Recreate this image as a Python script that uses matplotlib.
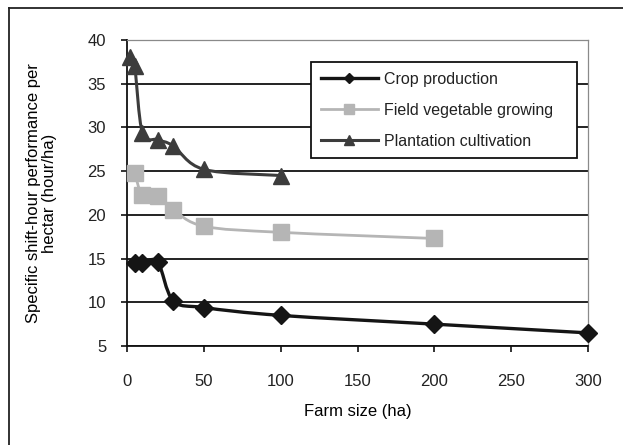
'''
Shift-hour performance per hectare against farm size, three farm types.
'''

import numpy as np
import matplotlib
matplotlib.use('Agg')
import matplotlib.pyplot as plt
from matplotlib.path import Path
from matplotlib.patches import PathPatch
from matplotlib.lines import Line2D

# data
crop_x = [5, 10, 20, 30, 50, 100, 200, 300]
crop_y = [14.5, 14.5, 14.6, 10.2, 9.4, 8.5, 7.5, 6.5]

veg_x = [5, 10, 20, 30, 50, 100, 200]
veg_y = [24.8, 22.3, 22.1, 20.6, 18.7, 18.0, 17.3]

plant_x = [2, 5, 10, 20, 30, 50, 100]
plant_y = [38.0, 37.0, 29.4, 28.6, 27.9, 25.2, 24.5]

series_names = ['Crop production', 'Field vegetable growing', 'Plantation cultivation']
x_ticks = [0, 50, 100, 150, 200, 250, 300]
y_ticks = [5, 10, 15, 20, 25, 30, 35, 40]


def smooth_path(xs, ys):
    '''Bezier path through the points, like the smoothed lines of a spreadsheet.'''
    pts = np.column_stack([xs, ys]).astype(float)
    n = len(pts)
    verts = [pts[0]]
    codes = [Path.MOVETO]
    for i in range(n - 1):
        p0 = pts[max(i - 1, 0)]
        p1 = pts[i]
        p2 = pts[i + 1]
        p3 = pts[min(i + 2, n - 1)]
        verts += [p1 + (p2 - p0) / 6, p2 - (p3 - p1) / 6, p2]
        codes += [Path.CURVE4] * 3
    return Path(verts, codes)


plt.rcParams['font.family'] = ['Liberation Sans', 'DejaVu Sans']
plt.rcParams['text.color'] = '#222222'

fig = plt.figure(figsize=(6.23, 4.45), dpi=100)
fig.subplots_adjust(left=127/623, right=588/623, bottom=1-346/445, top=1-40/445)
ax = fig.add_subplot(111)

styles = [
    dict(color='#151515', lw=2.4, marker='D', ms=9, small=5),
    dict(color='#b5b5b5', lw=2.0, marker='s', ms=11, small=6.5),
    dict(color='#3c3c3c', lw=2.2, marker='^', ms=11.5, small=6.5),
]
data = [(crop_x, crop_y), (veg_x, veg_y), (plant_x, plant_y)]

handles = []
for (xs, ys), st, name in zip(data, styles, series_names):
    ax.add_patch(PathPatch(smooth_path(xs, ys), fill=False,
                           edgecolor=st['color'], lw=st['lw'], zorder=3))
    ax.plot(xs, ys, ls='none', marker=st['marker'], ms=st['ms'],
            color=st['color'], mec=st['color'], zorder=4, clip_on=False)
    handles.append(Line2D([], [], color=st['color'], lw=st['lw'],
                          marker=st['marker'], ms=st['small']))

ax.set_xlim(0, 300)
ax.set_ylim(5, 40)
ax.set_xticks(x_ticks)
ax.set_yticks(y_ticks)
ax.tick_params(axis='both', direction='out', length=4, width=1.2,
               labelsize=12, colors='#111111', labelcolor='#222222')
ax.tick_params(axis='x', pad=16)
ax.tick_params(axis='y', pad=11)

ax.yaxis.grid(True, color='#111111', lw=1.3)
ax.set_axisbelow(True)
for side in ['left', 'bottom']:
    ax.spines[side].set_color('#111111')
    ax.spines[side].set_linewidth(1.3)
for side in ['top', 'right']:
    ax.spines[side].set_color('#8a8a8a')
    ax.spines[side].set_linewidth(0.9)

ax.set_xlabel('Farm size (ha)', fontsize=12, labelpad=11)
ax.set_ylabel('Specific shift-hour performance per\nhectar (hour/ha)',
              fontsize=12, linespacing=1.05)
ax.yaxis.set_label_coords(-0.152, 0.5)

leg = ax.legend(handles, series_names, loc='upper left',
                bbox_to_anchor=(0.399, 0.928, 0.577, 0.0), mode='expand',
                borderaxespad=0, fontsize=11.5, handlelength=3.6,
                handletextpad=0.4, labelspacing=1.0, borderpad=0.6,
                fancybox=False, framealpha=1)
leg.get_frame().set_edgecolor('#111111')
leg.get_frame().set_linewidth(1.3)

# border of the original figure (only top and left are inside the crop)
fig.add_artist(Line2D([9/623, 9/623], [0, 1-8/445], color='#222222', lw=1.3))
fig.add_artist(Line2D([9/623, 1], [1-8/445, 1-8/445], color='#222222', lw=1.3))

fig.savefig('out.png', dpi=100)
